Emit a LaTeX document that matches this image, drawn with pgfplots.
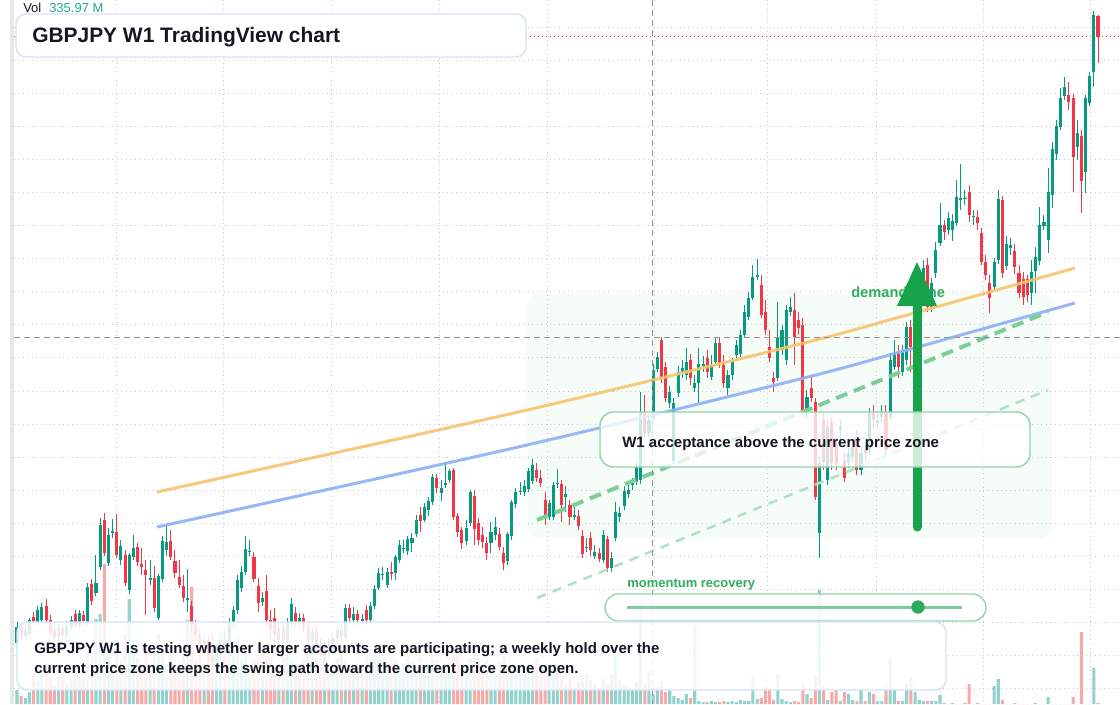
\documentclass[border=0pt]{standalone}
\usepackage{pgfplots}
\pgfplotsset{compat=1.18}
\usepackage{pgfplotstable}
\usepackage{fontspec}
\setmainfont{Liberation Sans}
\definecolor{upc}{HTML}{089981}
\definecolor{dnc}{HTML}{F23645}
\definecolor{volup}{HTML}{92D2CC}
\definecolor{voldn}{HTML}{F7A9A7}
\definecolor{txt}{HTML}{131722}
\definecolor{gridc}{HTML}{C4C7CC}
\definecolor{maor}{HTML}{F6C46E}
\definecolor{mabl}{HTML}{8FB0F5}
\definecolor{gdash}{HTML}{7DCD96}
\definecolor{gdashb}{HTML}{B2E1C1}
\definecolor{garrow}{HTML}{16A34A}
\definecolor{glab}{HTML}{2FAE5B}
\definecolor{gbord}{HTML}{93D4A9}
\definecolor{bbord}{HTML}{D6E3F6}
\definecolor{zone}{HTML}{F6FCF7}
\definecolor{volt}{HTML}{22AB94}
\definecolor{sline}{HTML}{7FCB9B}
\definecolor{sdot}{HTML}{2EA85A}

\pgfplotstableread[row sep=\\]{
i o h l c v\\
0 150.7 152.8 150.2 152.3 140\\
2 151.4 152.4 151.0 152.0 60\\
3 151.6 153.2 151.3 153.0 120\\
5 152.8 154.4 152.5 154.0 220\\
6 153.0 154.7 152.8 154.3 350\\
10 151.3 152.6 150.9 152.2 280\\
12 151.5 152.9 151.2 152.4 200\\
13 152.3 153.4 152.0 153.0 260\\
15 152.5 154.0 152.2 153.7 300\\
17 152.8 156.7 152.4 156.3 550\\
19 155.7 159.5 155.4 156.7 850\\
20 158.3 163.2 158.0 162.5 900\\
22 158.7 162.2 158.4 161.5 600\\
23 161.7 163.1 161.2 161.9 400\\
25 159.0 161.0 158.5 160.4 450\\
27 156.0 159.7 155.6 159.5 1050\\
28 159.3 161.5 159.0 160.2 500\\
32 157.0 159.0 156.5 157.2 350\\
34 153.2 157.6 153.0 157.4 700\\
35 157.1 161.4 156.8 160.9 550\\
36 160.0 162.5 159.4 160.8 400\\
41 155.0 158.1 153.8 155.2 840\\
45 150.2 151.4 149.5 151.0 400\\
48 148.8 150.5 148.4 150.0 500\\
49 150.0 151.6 149.2 151.0 350\\
51 150.2 153.2 149.8 152.8 620\\
52 152.8 154.4 152.2 154.0 580\\
53 154.0 157.5 153.6 157.0 660\\
54 156.2 158.4 155.8 157.8 450\\
55 157.8 161.4 157.5 160.1 520\\
56 159.8 161.0 159.4 159.9 300\\
59 154.8 155.8 154.4 155.2 380\\
63 151.0 152.8 150.2 152.2 400\\
65 151.0 153.2 150.5 152.8 520\\
66 152.8 155.2 152.4 154.6 440\\
68 152.8 153.7 152.2 153.2 300\\
71 151.0 152.2 150.2 151.8 600\\
74 149.5 151.0 148.8 150.5 500\\
76 150.0 151.8 149.5 151.2 340\\
77 151.2 152.5 150.5 152.0 460\\
79 151.3 154.6 151.0 154.2 440\\
81 153.0 154.3 152.6 153.6 300\\
83 152.9 153.6 152.5 153.1 350\\
85 153.0 154.8 152.8 154.4 400\\
86 154.4 156.5 154.1 156.1 550\\
87 156.2 158.2 156.0 157.7 600\\
88 157.5 158.3 157.0 157.6 460\\
89 156.5 158.2 156.2 157.8 380\\
91 157.7 159.5 157.0 159.3 440\\
92 159.0 161.0 158.7 160.5 360\\
93 160.1 161.0 159.7 160.2 400\\
94 159.9 161.4 159.5 161.1 480\\
95 160.7 161.7 159.8 161.2 420\\
96 161.6 163.5 161.3 163.0 350\\
98 163.0 164.7 162.8 164.3 400\\
99 164.0 165.3 163.4 164.9 380\\
100 164.8 167.6 164.5 167.3 500\\
102 165.7 167.0 164.9 166.2 360\\
103 166.5 168.8 166.2 166.7 400\\
104 167.0 168.1 166.7 167.9 300\\
108 160.9 163.0 160.5 162.2 380\\
109 162.7 166.0 162.4 165.8 460\\
114 160.7 162.8 159.7 161.8 380\\
115 161.5 163.3 161.0 162.3 300\\
118 158.9 161.8 158.5 161.6 360\\
119 161.4 165.0 161.0 164.8 400\\
120 164.6 166.2 164.2 165.8 340\\
121 165.8 166.8 165.5 165.9 300\\
122 165.8 167.0 165.4 166.4 380\\
123 166.1 168.2 165.8 167.9 420\\
124 166.9 169.1 166.6 168.5 360\\
128 163.3 165.0 163.0 164.7 400\\
129 163.3 166.8 163.0 166.5 350\\
130 166.6 168.1 166.2 166.7 320\\
132 165.3 166.4 163.8 165.6 200\\
134 163.3 164.5 163.0 163.5 180\\
137 160.2 161.2 159.8 160.3 300\\
139 159.4 160.5 159.1 159.8 200\\
141 159.0 162.0 158.7 161.5 250\\
143 158.2 159.8 157.8 159.2 300\\
144 161.2 164.8 160.9 163.8 510\\
145 163.3 164.3 162.8 163.7 240\\
146 164.4 166.4 164.0 165.9 200\\
147 165.6 166.5 165.2 166.0 180\\
148 166.5 167.2 166.0 166.7 150\\
149 166.8 168.8 166.5 168.3 220\\
150 167.0 175.8 166.6 173.8 1030\\
152 171.7 173.6 171.3 173.0 335.97\\
153 173.2 178.6 172.9 178.0 100\\
154 178.1 179.8 177.8 179.3 180\\
157 174.7 176.4 174.2 175.8 160\\
158 168.9 175.2 168.5 174.7 80\\
159 175.7 178.4 175.3 177.8 60\\
160 177.8 179.0 177.2 178.2 40\\
161 177.5 180.2 177.0 178.8 100\\
163 176.2 177.5 175.8 176.7 790\\
164 176.7 180.2 174.7 178.6 30\\
165 178.4 179.4 177.8 178.6 20\\
167 177.3 179.5 177.0 178.5 30\\
168 178.8 181.2 178.4 180.7 20\\
171 176.2 178.0 175.5 177.5 20\\
172 177.5 179.2 177.0 178.8 30\\
173 179.5 181.0 179.0 180.5 20\\
174 179.6 182.0 179.3 181.5 40\\
175 181.5 184.5 181.2 183.8 30\\
176 183.3 185.8 183.0 185.2 30\\
177 185.2 188.5 185.0 187.3 290\\
178 187.3 189.1 187.0 187.5 50\\
183 177.2 184.8 176.9 181.2 310\\
184 180.0 182.5 179.5 182.0 50\\
185 179.0 184.5 178.5 184.0 30\\
186 183.8 185.3 183.4 184.3 20\\
190 174.0 176.0 173.2 175.3 100\\
193 161.7 169.4 159.2 168.7 1140\\
195 167.0 173.0 166.5 172.3 40\\
198 172.0 173.0 171.0 172.3 30\\
200 168.7 170.2 168.2 169.7 100\\
201 169.3 171.0 168.8 170.3 40\\
203 168.0 170.4 167.5 169.7 140\\
205 170.0 174.2 169.5 173.7 120\\
207 172.7 173.8 172.2 173.0 30\\
208 173.3 174.5 172.8 173.8 30\\
210 173.3 179.7 173.0 179.0 470\\
211 178.3 181.0 178.0 179.7 150\\
213 177.8 180.5 177.4 180.0 30\\
214 179.0 182.8 178.5 182.3 200\\
216 180.5 184.0 179.8 183.2 120\\
217 183.2 187.0 182.8 186.0 40\\
218 186.0 189.0 185.5 188.2 30\\
220 184.3 187.2 183.8 186.7 30\\
221 187.7 190.8 187.2 190.0 30\\
222 190.7 194.7 190.4 192.5 90\\
224 192.0 193.8 191.5 193.2 0\\
225 192.0 193.6 190.9 192.9 10\\
226 192.7 197.0 192.4 195.3 0\\
227 195.0 198.6 194.0 195.2 0\\
228 195.1 196.0 194.5 195.2 10\\
230 193.3 194.0 192.5 193.4 0\\
235 186.3 189.2 186.0 188.8 180\\
236 189.0 196.0 188.6 195.1 250\\
238 188.4 191.4 188.0 190.6 0\\
239 190.2 191.2 189.5 190.5 0\\
244 185.7 189.0 184.5 187.8 0\\
245 187.9 190.3 185.7 189.3 10\\
246 188.9 194.3 188.5 192.5 0\\
247 192.4 193.5 192.0 192.8 0\\
248 191.0 198.2 189.7 195.8 70\\
249 195.5 200.8 194.2 200.1 0\\
250 199.6 203.0 199.0 202.4 0\\
251 202.3 206.2 202.0 205.2 0\\
252 205.4 207.3 205.0 206.3 0\\
255 200.3 203.0 199.0 201.7 0\\
257 197.8 205.5 195.7 205.2 0\\
258 204.7 207.8 204.4 207.4 0\\
259 207.8 213.9 206.3 213.5 360\\
}\up

\pgfplotstableread[row sep=\\]{
i o h l c v\\
1 152.2 152.6 151.0 151.4 80\\
4 153.3 153.8 152.4 152.9 300\\
7 154.4 155.1 152.6 153.0 400\\
8 153.0 153.5 151.3 151.7 250\\
9 152.0 152.4 150.8 151.3 180\\
11 152.2 152.7 151.0 151.5 320\\
14 153.6 154.0 152.2 152.5 400\\
16 153.5 153.9 152.5 152.9 380\\
18 156.6 157.1 154.5 154.9 480\\
21 163.0 163.7 159.4 159.7 1400\\
24 161.8 163.6 159.2 159.5 550\\
26 159.5 160.0 156.4 156.7 700\\
29 160.3 160.7 158.4 158.8 450\\
30 158.6 160.2 157.5 158.3 300\\
31 158.0 159.0 153.5 157.5 600\\
33 157.2 158.4 153.8 154.2 500\\
37 160.9 162.0 159.0 159.3 480\\
38 158.9 160.0 157.2 157.7 360\\
39 157.3 159.0 156.2 156.5 420\\
40 156.4 157.5 154.8 155.2 500\\
42 154.4 154.9 152.0 152.6 1170\\
43 152.6 153.0 151.0 151.5 450\\
44 151.5 152.2 149.8 150.2 600\\
46 151.0 151.5 149.0 149.5 550\\
47 149.5 150.2 148.2 148.8 700\\
50 151.0 152.0 149.8 150.2 480\\
57 159.3 159.8 156.8 157.1 440\\
58 156.4 157.2 153.8 154.7 500\\
60 155.9 157.5 152.2 153.0 570\\
61 153.0 154.0 151.0 152.0 460\\
62 153.2 154.2 150.5 151.5 350\\
64 152.2 152.6 150.0 151.0 480\\
67 153.7 154.3 152.3 152.8 380\\
69 153.2 153.6 151.8 152.2 420\\
70 152.2 152.8 150.5 151.0 550\\
72 151.8 152.4 149.8 150.5 450\\
73 150.5 151.2 149.0 149.5 360\\
75 150.5 151.2 149.2 150.0 400\\
78 152.0 152.6 150.8 151.3 520\\
80 154.2 154.6 152.8 153.2 380\\
82 153.6 154.0 152.4 153.0 420\\
84 154.0 154.5 152.6 153.0 480\\
90 157.8 158.8 157.0 157.6 520\\
97 163.5 164.3 161.8 162.9 460\\
101 167.2 167.6 165.7 166.2 440\\
105 168.0 168.2 163.0 163.3 550\\
106 163.4 163.7 161.3 161.8 480\\
107 162.0 162.3 160.1 160.7 420\\
110 165.4 166.0 160.5 162.1 520\\
111 162.7 163.2 160.5 161.0 400\\
112 161.5 162.3 160.2 160.8 350\\
113 160.7 161.3 159.0 159.7 440\\
116 161.6 162.2 160.0 160.3 420\\
117 159.7 160.3 158.0 158.7 480\\
125 168.0 168.7 166.8 167.2 460\\
126 167.2 168.0 166.3 166.7 300\\
127 165.0 165.8 162.5 163.5 280\\
131 166.6 167.0 162.8 164.5 300\\
133 164.5 165.0 162.5 163.3 260\\
135 163.4 164.0 162.0 162.4 220\\
136 161.4 162.0 159.2 159.6 280\\
138 161.2 161.8 159.4 160.0 240\\
140 159.7 160.2 158.8 159.1 160\\
142 161.1 161.4 157.8 158.2 200\\
151 173.7 175.5 171.2 171.7 200\\
155 181.0 181.3 176.7 177.3 220\\
156 178.3 178.8 174.8 175.2 120\\
162 179.0 179.6 176.5 177.2 60\\
166 179.2 180.0 177.2 177.8 20\\
169 180.7 181.2 178.2 178.7 20\\
170 178.5 179.5 176.2 176.7 30\\
179 186.5 187.5 183.2 183.5 60\\
180 183.8 185.0 181.5 182.0 180\\
181 180.3 182.0 178.8 179.2 160\\
182 177.2 177.8 175.8 176.8 40\\
187 184.0 185.7 178.5 181.3 30\\
188 183.0 183.8 181.5 182.2 20\\
189 182.5 183.2 173.5 174.0 190\\
191 176.2 177.5 174.8 175.2 60\\
192 174.8 175.2 165.0 165.3 290\\
194 173.0 173.8 168.0 168.8 180\\
196 172.7 173.2 168.0 168.7 120\\
197 170.7 171.2 168.0 168.7 140\\
199 169.0 169.8 166.8 167.2 120\\
202 171.3 172.0 167.5 168.0 30\\
204 170.0 170.5 169.0 169.7 30\\
206 173.7 174.5 172.2 173.0 100\\
209 173.7 174.5 169.5 170.0 180\\
212 179.7 180.5 177.2 178.3 30\\
215 182.3 183.0 177.8 180.3 270\\
219 188.5 189.2 183.8 184.3 30\\
223 192.5 193.0 191.0 191.8 10\\
229 195.8 196.5 192.8 193.5 200\\
231 193.3 194.0 192.0 192.7 10\\
232 191.7 192.2 188.5 188.8 0\\
233 188.8 189.5 187.0 187.5 0\\
234 186.7 187.5 183.7 185.2 0\\
237 195.0 195.4 187.2 187.7 40\\
240 189.9 190.6 187.6 188.3 10\\
241 187.7 188.5 185.2 185.7 0\\
242 187.1 187.8 184.5 185.3 0\\
243 187.1 187.5 184.8 185.5 0\\
253 205.5 206.8 204.0 204.8 0\\
254 205.2 205.6 195.8 199.3 70\\
256 201.4 202.0 193.7 196.9 720\\
260 213.4 213.5 208.7 211.3 10\\
}\dn

\pgfplotsset{candle/.style n args={2}{draw=none, mark=none, forget plot,
  error bars/.cd, y dir=plus, y explicit, error mark=none,
  error bar style={line width=#1, draw=#2, solid}}}

\begin{document}
\begin{tikzpicture}
% ---------- background layer (pixel coordinates, origin top-left)
\begin{scope}[x=0.75pt,y=-0.75pt,yshift=528pt]
  \fill[white] (0,0) rectangle (1120,704);
  \fill[black!9] (10,0) rectangle (14,704);
  \fill[zone, rounded corners=9pt] (527,293) rectangle (1052,539);
  \foreach \yy in {28,61,...,688}
    \draw[gridc, line width=0.75pt, dash pattern=on 0.75pt off 2.6pt] (14,\yy) -- (1120,\yy);
  \foreach \xx in {116,223,331,439,547,654,767,876,983,1090}
    \draw[gridc, line width=0.75pt, dash pattern=on 0.75pt off 2.6pt] (\xx,0) -- (\xx,704);
  \draw[dnc, line width=0.75pt, dash pattern=on 0.75pt off 2.25pt] (14,37) -- (1120,37);
\end{scope}

% ---------- volume
\begin{axis}[at={(0,0)}, anchor=south west, scale only axis, width=840pt, height=528pt,
  xmin=-4.089, xmax=265.29, ymin=0, ymax=7040, hide axis]
  \addplot[ybar, bar width=2.3pt, bar shift=0pt, fill=volup, draw=none] table[x=i, y=v] {\up};
  \addplot[ybar, bar width=2.3pt, bar shift=0pt, fill=voldn, draw=none] table[x=i, y=v] {\dn};
\end{axis}

% ---------- candles and overlays
\begin{axis}[at={(0,0)}, anchor=south west, scale only axis, width=840pt, height=528pt,
  xmin=-4.089, xmax=265.29, ymin=144.6, ymax=215, hide axis]
  % wicks
  \addplot[candle={0.75pt}{upc}] table[x=i, y=l, y error expr=\thisrow{h}-\thisrow{l}] {\up};
  \addplot[candle={0.75pt}{dnc}] table[x=i, y=l, y error expr=\thisrow{h}-\thisrow{l}] {\dn};
  % bodies
  \addplot[candle={2.3pt}{upc}] table[x=i, y=o, y error expr=\thisrow{c}-\thisrow{o}] {\up};
  \addplot[candle={2.3pt}{dnc}] table[x=i, y=c, y error expr=\thisrow{o}-\thisrow{c}] {\dn};
  % moving averages
  \addplot[maor, line width=2.25pt, smooth, opacity=0.9] coordinates
    {(33.67,165.8) (63.26,168.5) (125.79,174.3) (188.32,180.6) (212.38,183.3) (254.47,188.2)};
  \addplot[mabl, line width=2.25pt, smooth, opacity=0.9] coordinates
    {(33.67,162.3) (63.26,165.0) (125.79,170.8) (188.32,177.1) (212.38,179.8) (254.47,184.7)};
  % channel lines
  \addplot[gdash, line width=3pt, dash pattern=on 9pt off 5.25pt] coordinates
    {(125.07,163.0) (247.97,183.8)};
  \addplot[gdashb, line width=1.9pt, dash pattern=on 7pt off 5.5pt] coordinates
    {(125.07,155.2) (247.97,176.0)};
\end{axis}

% ---------- annotations (pixel coordinates)
\begin{scope}[x=0.75pt,y=-0.75pt,yshift=528pt]
  \draw[black!42, line width=0.75pt, dash pattern=on 4.5pt off 3pt] (652,0) -- (652,704);
  \draw[black!42, line width=0.75pt, dash pattern=on 4.5pt off 3pt] (14,338) -- (1120,338);
  % title
  \draw[bbord, line width=1.1pt, fill=white, rounded corners=7.5pt] (16,14) rectangle (526,57);
  \node[anchor=base west, inner sep=0pt, text=txt, font=\fontsize{15.7}{18}\selectfont\bfseries] at (32,43) {GBPJPY W1 TradingView chart};
  \node[anchor=base west, inner sep=0pt, text=txt, font=\fontsize{9.75}{12}\selectfont] at (23,12.5) {Vol};
  \node[anchor=base west, inner sep=0pt, text=volt, font=\fontsize{9.75}{12}\selectfont] at (49,12.5) {335.97 M};
  % demand zone label + arrow
  \node[anchor=base west, inner sep=0pt, text=glab, font=\fontsize{11}{13}\selectfont\bfseries] at (851,298) {demand zone};
  \draw[garrow, line width=6.75pt, line cap=round] (917,527) -- (917,300);
  \fill[garrow] (897,306) -- (937,306) -- (917,262) -- cycle;
  % acceptance box
  \draw[gbord, line width=1.1pt, fill=white, fill opacity=0.78, rounded corners=10pt] (600,412) rectangle (1030,467);
  \node[anchor=base west, inner sep=0pt, text=txt, font=\fontsize{11.25}{14}\selectfont\bfseries] at (622,447) {W1 acceptance above the current price zone};
  % momentum slider
  \node[anchor=base west, inner sep=0pt, text=glab, font=\fontsize{9.75}{12}\selectfont\bfseries] at (627,587) {momentum recovery};
  \draw[gbord, line width=1pt, fill=white, fill opacity=0.88, rounded corners=10pt] (605,594) rectangle (986,621);
  \draw[sline, line width=2.25pt] (627,607) -- (962,607);
  \fill[sdot] (918,607) circle (5pt);
  % bottom commentary
  \draw[bbord, line width=1.1pt, fill=white, fill opacity=0.86, rounded corners=8pt] (17,622) rectangle (946,690);
  \node[anchor=base west, inner sep=0pt, text=txt, font=\fontsize{11.25}{14}\selectfont\bfseries] at (34,653) {GBPJPY W1 is testing whether larger accounts are participating; a weekly hold over the};
  \node[anchor=base west, inner sep=0pt, text=txt, font=\fontsize{11.25}{14}\selectfont\bfseries] at (34,673) {current price zone keeps the swing path toward the current price zone open.};
\end{scope}
\pgfresetboundingbox
\path[use as bounding box] (0,0) rectangle (840pt,528pt);
\end{tikzpicture}
\end{document}
